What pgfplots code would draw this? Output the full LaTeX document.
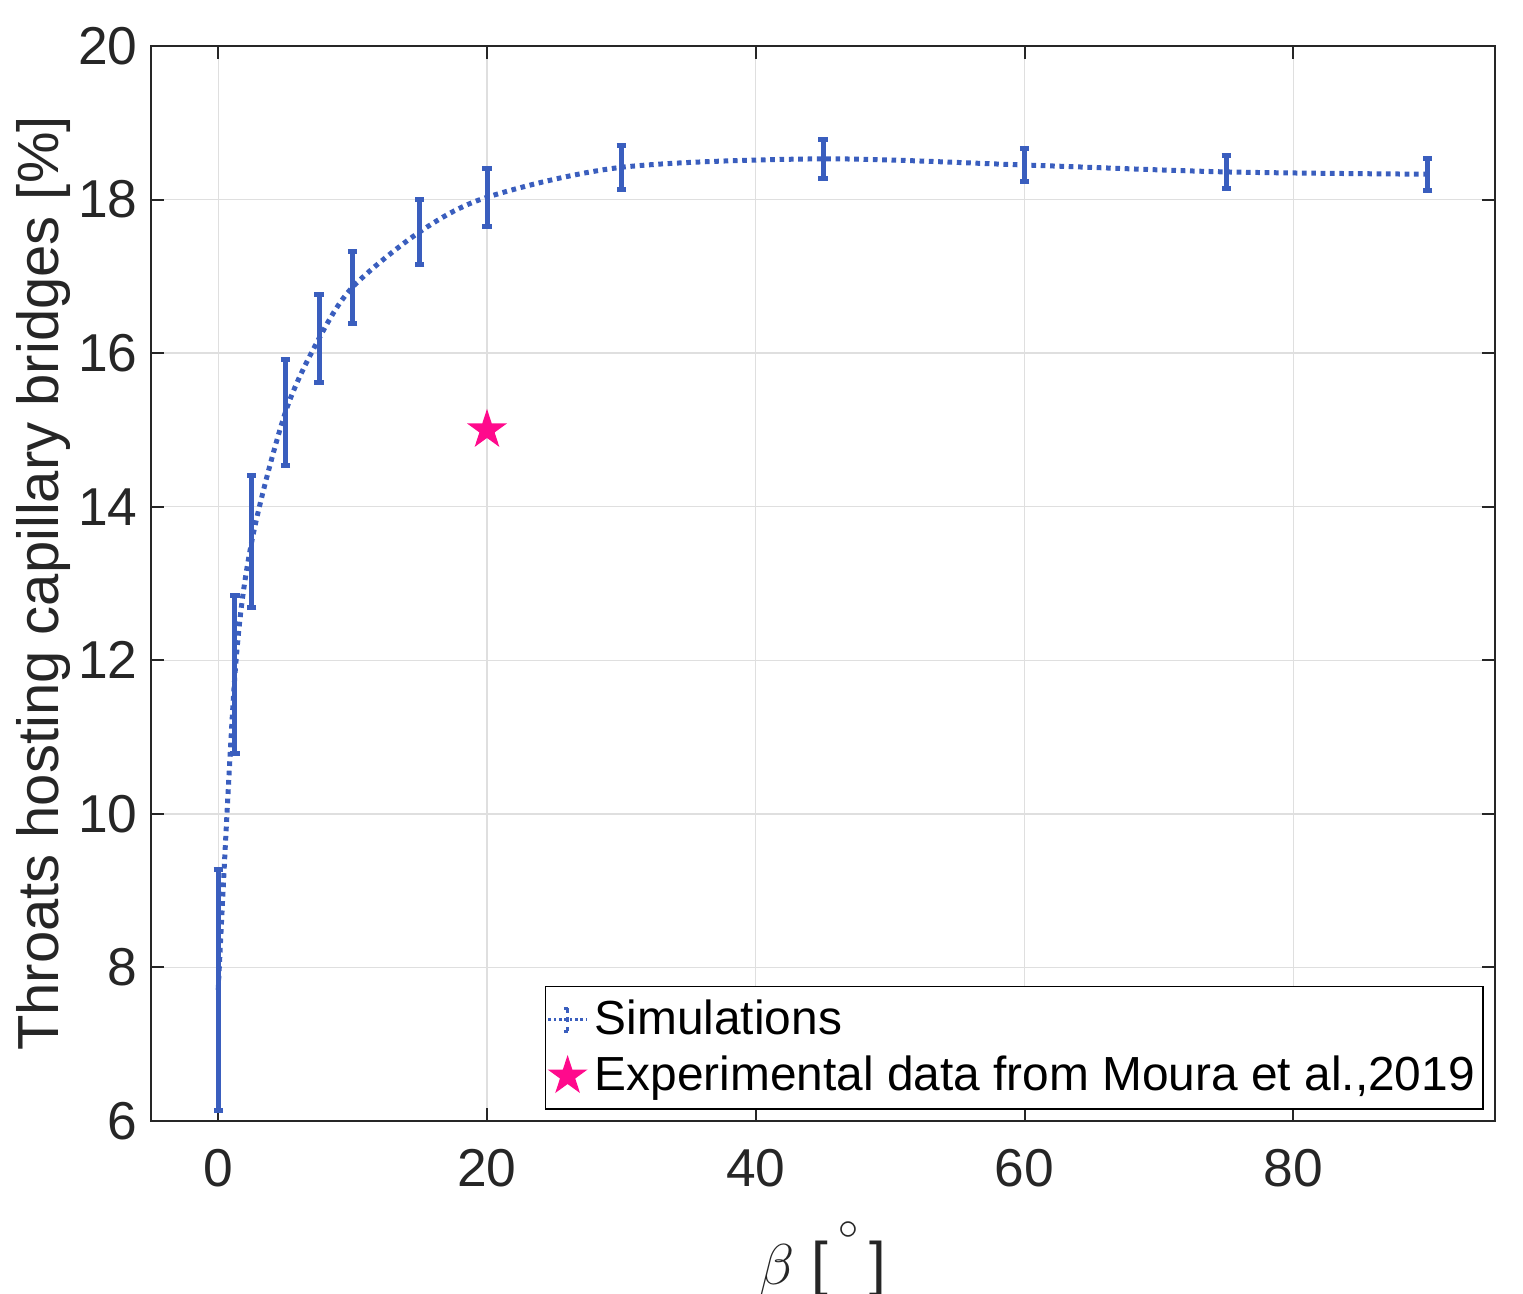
\documentclass[border=0pt]{standalone}
\usepackage{fontspec}
\setmainfont{Liberation Sans}
\usepackage{pgfplots}
\pgfplotsset{compat=1.18}
\definecolor{simblue}{RGB}{58,94,190}
\definecolor{expmag}{RGB}{255,10,140}
\definecolor{axgray}{gray}{0.15}
\pgfdeclareplotmark{pentagram}{%
  \pgfpathmoveto{\pgfpointpolar{90}{\pgfplotmarksize}}%
  \pgfpathlineto{\pgfpointpolar{126}{0.382\pgfplotmarksize}}%
  \pgfpathlineto{\pgfpointpolar{162}{\pgfplotmarksize}}%
  \pgfpathlineto{\pgfpointpolar{198}{0.382\pgfplotmarksize}}%
  \pgfpathlineto{\pgfpointpolar{234}{\pgfplotmarksize}}%
  \pgfpathlineto{\pgfpointpolar{270}{0.382\pgfplotmarksize}}%
  \pgfpathlineto{\pgfpointpolar{306}{\pgfplotmarksize}}%
  \pgfpathlineto{\pgfpointpolar{342}{0.382\pgfplotmarksize}}%
  \pgfpathlineto{\pgfpointpolar{18}{\pgfplotmarksize}}%
  \pgfpathlineto{\pgfpointpolar{54}{0.382\pgfplotmarksize}}%
  \pgfpathclose
  \pgfusepathqfillstroke}
\begin{document}
\begin{tikzpicture}
\begin{axis}[
  scale only axis,
  width=403.2pt, height=322.5pt,
  xmin=-5, xmax=95, ymin=6, ymax=20,
  xtick={0,20,40,60,80},
  ytick={6,8,...,20},
  grid=major,
  major grid style={gray!25, line width=0.4pt},
  axis line style={axgray, line width=0.6pt},
  tick style={axgray, line width=0.6pt},
  tick align=inside,
  major tick length=4pt,
  ticklabel style={font=\fontsize{16}{18}\selectfont, text=axgray},
  xticklabel style={yshift=-5pt},
  yticklabel style={xshift=-0.5pt},
  /pgf/number format/assume math mode=true,
  xlabel={\fontsize{18}{20}\selectfont $\beta$ [\,\raisebox{0.75ex}{$^{\circ}$}\,]},
  ylabel={\fontsize{17.4}{20}\selectfont Throats hosting capillary bridges [\%]},
  xlabel style={text=axgray, yshift=-3.5pt},
  ylabel style={text=axgray, yshift=-4.6pt},
  legend style={at={(1,0)}, anchor=south east, xshift=-3.3pt, yshift=3.3pt,
    font=\fontsize{14.35}{16}\selectfont, draw=black, line width=0.5pt,
    inner xsep=0.5pt, inner ysep=2pt, row sep=1pt,
    cells={anchor=west, inner xsep=1.2pt}},
  legend cell align=left,
]
\addplot[simblue, line width=1.5pt, dash pattern=on 1.4pt off 1.4pt, smooth,
  legend image code/.code={
    \draw[simblue, line width=0.8pt, dash pattern=on 0.8pt off 0.8pt] (0pt,0pt) -- (11.5pt,0pt);
    \draw[simblue, line width=0.9pt] (5.75pt,-3.5pt) -- (5.75pt,3.5pt);
    \draw[simblue, line width=0.9pt] (4.6pt,-3.5pt) -- (6.9pt,-3.5pt);
    \draw[simblue, line width=0.9pt] (4.6pt,3.5pt) -- (6.9pt,3.5pt);
  },
  error bars/.cd, y dir=both, y explicit,
  error bar style={line width=1.5pt, solid, simblue},
  error mark options={rotate=90, mark size=1.4pt, line width=1.5pt, solid, simblue}]
  coordinates {
  (0,7.71) +- (0,1.57)
  (1.25,11.82) +- (0,1.03)
  (2.5,13.55) +- (0,0.86)
  (5,15.23) +- (0,0.69)
  (7.5,16.19) +- (0,0.57)
  (10,16.86) +- (0,0.47)
  (15,17.58) +- (0,0.42)
  (20,18.03) +- (0,0.38)
  (30,18.42) +- (0,0.29)
  (45,18.53) +- (0,0.25)
  (60,18.45) +- (0,0.22)
  (75,18.36) +- (0,0.22)
  (90,18.33) +- (0,0.21)
  };
\addlegendentry{Simulations}
\addplot[only marks, mark=pentagram, mark size=5.5pt, draw=expmag, fill=expmag, line width=0.5pt,
  legend image code/.code={
    \pgfplotsset{mark size=5.5pt}
    \draw[expmag, fill=expmag, line width=0.5pt] plot[mark=pentagram] coordinates {(5.75pt,0pt)};
  }] coordinates {(20,15)};
\addlegendentry{Experimental data from Moura et al.,2019}
\end{axis}
\pgfresetboundingbox
\path ([shift={(-45.3pt,-51.6pt)}]current axis.south west) rectangle ([shift={(8.4pt,13.8pt)}]current axis.north east);
\end{tikzpicture}
\end{document}
